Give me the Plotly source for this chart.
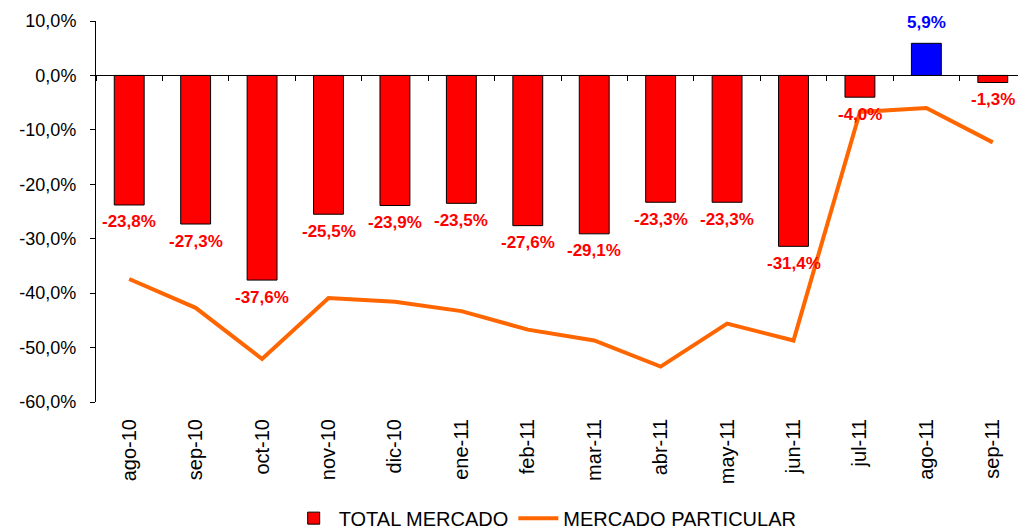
import plotly.graph_objects as go

categories = ["ago-10", "sep-10", "oct-10", "nov-10", "dic-10", "ene-11", "feb-11",
              "mar-11", "abr-11", "may-11", "jun-11", "jul-11", "ago-11", "sep-11"]
total_mercado = [-23.8, -27.3, -37.6, -25.5, -23.9, -23.5, -27.6,
                 -29.1, -23.3, -23.3, -31.4, -4.0, 5.9, -1.3]
mercado_particular = [-37.4, -42.7, -52.1, -40.9, -41.6, -43.3, -46.7,
                      -48.7, -53.5, -45.6, -48.7, -6.7, -6.0, -12.3]
y_ticks = [10, 0, -10, -20, -30, -40, -50, -60]
y_tick_text = [f"{v:.1f}%".replace(".", ",") for v in y_ticks]

RED = "#FF0000"
BLUE = "#0000FF"
ORANGE = "#FF6600"
bar_colors = [BLUE if v > 0 else RED for v in total_mercado]

FONT = "Arial, Liberation Sans, sans-serif"

fig = go.Figure()
fig.add_trace(go.Bar(
    x=categories, y=total_mercado, name="TOTAL MERCADO",
    marker=dict(color=bar_colors, line=dict(color="black", width=1)),
    width=0.45,
))
fig.add_trace(go.Scatter(
    x=categories, y=mercado_particular, name="MERCADO PARTICULAR",
    mode="lines", line=dict(color=ORANGE, width=4),
    xaxis="x2",
))

for cat, val, col in zip(categories, total_mercado, bar_colors):
    fig.add_annotation(
        x=cat, y=val, xref="x", yref="y",
        text=f"{val:.1f}%".replace(".", ","),
        showarrow=False, yanchor="middle",
        yshift=21 if val > 0 else -17,
        font=dict(family=FONT, size=17, color=col, weight="bold"),
    )

fig.update_layout(
    width=1026, height=530,
    margin=dict(l=88, r=8, t=13, b=136, autoexpand=False),
    paper_bgcolor="white", plot_bgcolor="white",
    font=dict(family=FONT, color="black"),
    showlegend=True,
    legend=dict(orientation="h", x=0.483, xanchor="center", y=-0.356, yanchor="bottom",
                font=dict(size=20), traceorder="normal", itemwidth=40),
    xaxis=dict(
        type="category", showline=False, showgrid=False, zeroline=False,
        ticks="", tickangle=-90, tickfont=dict(size=20),
        ticklabelstandoff=12, automargin=False,
    ),
    xaxis2=dict(
        type="category", overlaying="x", matches="x", anchor="free",
        position=60 / 70, side="bottom",
        showline=True, linecolor="black", linewidth=1,
        ticks="outside", tickson="boundaries", ticklen=5, tickcolor="black",
        showticklabels=False, showgrid=False, zeroline=False,
    ),
    yaxis=dict(
        range=[-60, 10], tickvals=y_ticks, ticktext=y_tick_text,
        showline=True, linecolor="black", linewidth=1,
        ticks="outside", ticklen=5, tickcolor="black",
        showgrid=False, zeroline=False, tickfont=dict(size=18),
        ticklabelstandoff=10, automargin=False,
    ),
    bargap=0.55,
)

fig.write_html("out.html")
